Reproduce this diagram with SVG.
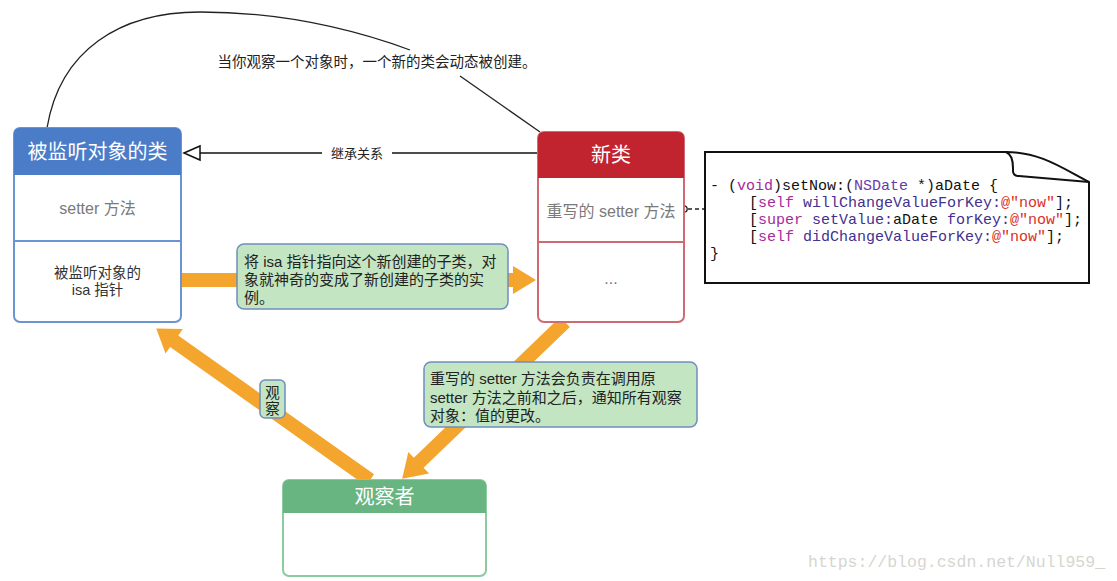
<svg xmlns="http://www.w3.org/2000/svg" width="1117" height="581" viewBox="0 0 1117 581">
<style>
.cjk{font-family:"Liberation Sans","Noto Sans CJK SC",sans-serif}
.hdr{font-size:20px;fill:#fff;text-anchor:middle}
.cell{font-size:16px;fill:#7a7a7a;text-anchor:middle}
.code{font-family:"Liberation Mono",monospace;font-size:15px;fill:#111;white-space:pre}
.kw{fill:#a52a9c}
.cls{fill:#6a3ba8}
.mt{fill:#43308f}
.str{fill:#d9311f}
.orange{fill:#f4a52e}
.note{fill:#c3e5c2;stroke:#6f8fbe;stroke-width:1.5}
</style>
<rect width="1117" height="581" fill="#fff"/>

<g id="connectors">
<!-- creation note curve -->
<path d="M47,128 C60,50 120,12 200,12 C280,12 350,28 410,50" fill="none" stroke="#222" stroke-width="1.3"/>
<path d="M460,76 L540,132" fill="none" stroke="#222" stroke-width="1.3"/>
<text class="cjk" x="377" y="67" font-size="14.5" fill="#222" text-anchor="middle">当你观察一个对象时，一个新的类会动态被创建。</text>
<!-- inheritance -->
<path d="M538,153 H392" fill="none" stroke="#111" stroke-width="1.5"/>
<path d="M322,153 H200" fill="none" stroke="#111" stroke-width="1.5"/>
<path d="M184,153 L200,146 L200,160 Z" fill="#fff" stroke="#111" stroke-width="1.5"/>
<text class="cjk" x="357" y="158" font-size="13" fill="#222" text-anchor="middle">继承关系</text>
<!-- dashed link to code -->
<path d="M688,209 H705" fill="none" stroke="#222" stroke-width="1.3" stroke-dasharray="4,3"/>
<circle cx="684" cy="209" r="3.2" fill="#fff" stroke="#222" stroke-width="1.3"/>
<!-- orange arrows -->
<polygon class="orange" transform="translate(182,280)" points="0,-7 331,-7 331,-14 354,0 331,14 331,7 0,7"/>
<polygon class="orange" transform="translate(370,480) rotate(215.33)" points="0,-7 240,-7 240,-15 262,0 240,15 240,7 0,7"/>
<polygon class="orange" transform="translate(565,322) rotate(136.1)" points="0,-7 203,-7 203,-15 226,0 203,15 203,7 0,7"/>
<!-- note boxes -->
<rect class="note" x="237" y="244" width="271" height="65" rx="7"/>
<text class="cjk" font-size="15" fill="#222"><tspan x="244" y="267">将 isa 指针指向这个新创建的子类，对</tspan><tspan x="244" y="285">象就神奇的变成了新创建的子类的实</tspan><tspan x="244" y="303">例。</tspan></text>
<rect class="note" x="424" y="362" width="273" height="65" rx="7"/>
<text class="cjk" font-size="15" fill="#222"><tspan x="430" y="384">重写的 setter 方法会负责在调用原</tspan><tspan x="430" y="403">setter 方法之前和之后，通知所有观察</tspan><tspan x="430" y="421">对象：值的更改。</tspan></text>
<rect class="note" x="260" y="380" width="25" height="38" rx="5"/>
<text class="cjk" font-size="14.5" fill="#222" text-anchor="middle"><tspan x="272.5" y="398">观</tspan><tspan x="272.5" y="414">察</tspan></text>
</g>

<g id="observed-class">
<rect x="14" y="128" width="167" height="194" rx="6" fill="#fff" stroke="#6d94d2" stroke-width="2"/>
<path d="M14,175 V134 Q14,128 20,128 H175 Q181,128 181,134 V175 Z" fill="#4b7cc8"/>
<line x1="14" y1="241" x2="181" y2="241" stroke="#6d94d2" stroke-width="2"/>
<text class="cjk hdr" x="97.5" y="159">被监听对象的类</text>
<text class="cjk cell" x="97.5" y="214">setter 方法</text>
<text class="cjk" font-size="14.5" fill="#333" text-anchor="middle"><tspan x="97.5" y="278">被监听对象的</tspan><tspan x="97.5" y="295">isa 指针</tspan></text>
</g>

<g id="new-class">
<rect x="538" y="132" width="146" height="190" rx="6" fill="#fff" stroke="#d06a72" stroke-width="2"/>
<path d="M538,178 V138 Q538,132 544,132 H678 Q684,132 684,138 V178 Z" fill="#c1242e"/>
<line x1="538" y1="242" x2="684" y2="242" stroke="#d06a72" stroke-width="2"/>
<text class="cjk hdr" x="611" y="162">新类</text>
<text class="cjk cell" x="611" y="217">重写的 setter 方法</text>
<text class="cjk cell" x="611" y="284">...</text>
</g>

<g id="code-note">
<path d="M705,152 H1006 C1040,152 1062,168 1089,182 V283 H705 Z" fill="#fff" stroke="#111" stroke-width="2"/>
<path d="M1006,152 C1011,154 1013,160 1013,168 L1013,171 Q1013,176 1019,176 L1089,182" fill="none" stroke="#111" stroke-width="2"/>
<text class="code" x="710" y="190">- (<tspan class="kw">void</tspan>)setNow:(<tspan class="cls">NSDate</tspan> *)aDate {</text>
<text class="code" x="749" y="207">[<tspan class="kw">self</tspan> <tspan class="mt">willChangeValueForKey:</tspan><tspan class="str">@"now"</tspan>];</text>
<text class="code" x="749" y="224">[<tspan class="kw">super</tspan> <tspan class="mt">setValue:</tspan>aDate <tspan class="mt">forKey:</tspan><tspan class="str">@"now"</tspan>];</text>
<text class="code" x="749" y="241">[<tspan class="kw">self</tspan> <tspan class="mt">didChangeValueForKey:</tspan><tspan class="str">@"now"</tspan>];</text>
<text class="code" x="710" y="258">}</text>
</g>

<g id="observer">
<rect x="283" y="480" width="203" height="96" rx="6" fill="#fff" stroke="#8ccaa0" stroke-width="2"/>
<path d="M283,513 V486 Q283,480 289,480 H480 Q486,480 486,486 V513 Z" fill="#68b582"/>
<text class="cjk hdr" x="384.5" y="504">观察者</text>
</g>

<text x="808" y="567" font-family="Liberation Mono,monospace" font-size="16.5" fill="#d6d6cf">https://blog.csdn.net/Null959_</text>
</svg>
